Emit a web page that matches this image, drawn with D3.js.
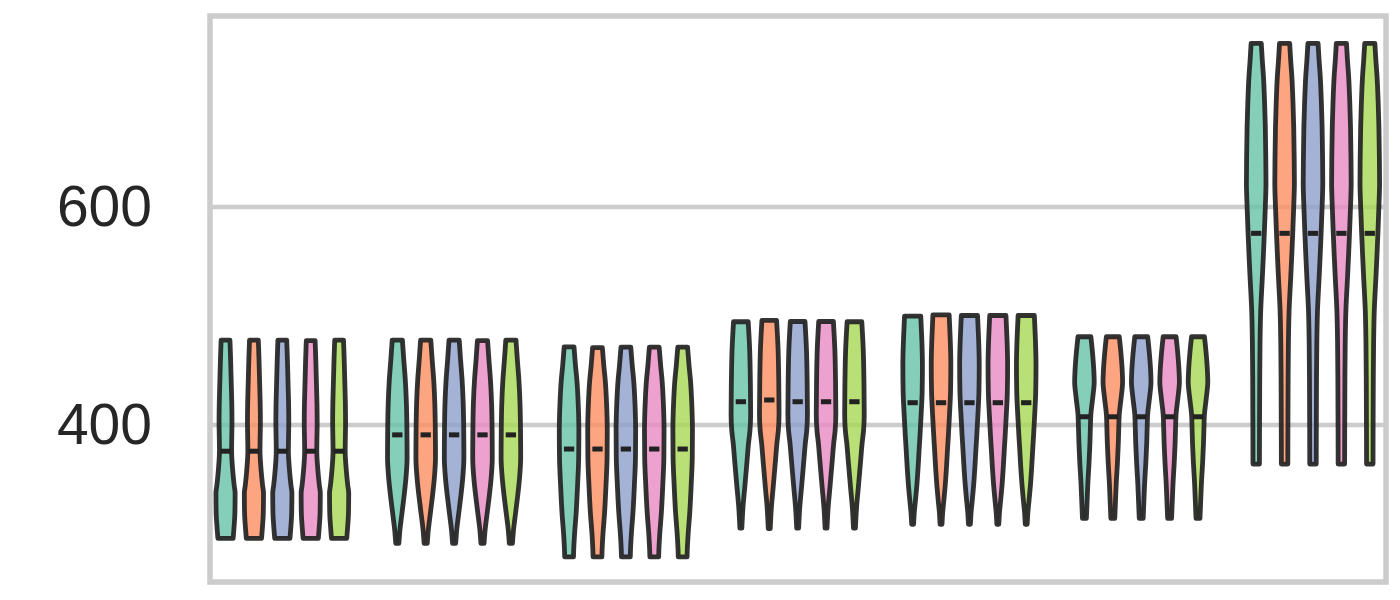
<!DOCTYPE html>
<html>
<head>
<meta charset="utf-8">
<script src="https://cdn.jsdelivr.net/npm/d3@7"></script>
<style>
html,body{margin:0;padding:0;background:#fff;}
svg{display:block;}
</style>
</head>
<body>
<svg id="chart" width="1400" height="600"></svg>
<script>
// ---------- data ----------
const groups = ["G1","G2","G3","G4","G5","G6","G7"];
const hues = ["H1","H2","H3","H4","H5"];
const hueColors = ["#66c2a5","#fc8d62","#8da0cb","#e78ac3","#a6d854"];
const yTicks = [400, 600];

// per group, per hue: minimum, maximum, median
const minVals = [
  [296, 296, 296, 296, 296],
  [291.5, 291.5, 291.5, 291.5, 291.5],
  [279, 279, 279, 279, 279],
  [305.5, 305, 305.5, 305.5, 305.5],
  [309, 309, 309, 309, 309],
  [314.4, 314.4, 314.4, 314.4, 314.4],
  [364.2, 364.2, 364.2, 364.2, 364.2]
];
const maxVals = [
  [478, 478, 478, 477.5, 478],
  [478, 478, 478, 477.5, 478],
  [471.8, 471, 471.5, 471.5, 471.5],
  [494.8, 496, 495, 495, 494.8],
  [500, 501, 500.5, 500.5, 500.5],
  [481, 481, 481, 481, 481],
  [750.2, 750.2, 750.2, 750.2, 750.2]
];
const medianVals = [
  [376, 376, 376, 376, 376],
  [391, 391, 391, 391, 391],
  [378, 378, 378, 378, 378],
  [421.4, 423, 421.4, 421.4, 421.4],
  [420.5, 420.5, 420.5, 420.5, 420.5],
  [407.6, 407.6, 407.6, 407.6, 407.6],
  [575.9, 575.9, 575.9, 575.9, 575.9]
];
// density outline per group: values (top to bottom) and relative widths
const profileValues = [
  [478, 460, 440, 420, 402, 385, 376, 360, 345, 337.6, 320, 305, 296],
  [478, 460, 441, 420, 398, 370, 350, 334, 318, 304, 291.5],
  [471.8, 455, 441, 420, 395, 370, 345, 319, 300, 285, 279],
  [494.8, 469, 440, 410, 395, 383, 368, 343, 325, 305.5],
  [500, 480, 455, 430, 410, 390, 377, 360, 347, 330, 320, 309],
  [481, 466, 450, 440, 425, 410, 395, 383, 365, 350, 325, 314.4],
  [750.2, 735, 720, 695, 674, 645, 622, 600, 576, 555, 536, 505, 475, 444, 400, 364.2]
];
const profileWidths = [
  [0.45, 0.52, 0.58, 0.64, 0.66, 0.63, 0.62, 0.72, 0.88, 0.98, 0.96, 0.86, 0.78],
  [0.52, 0.66, 0.82, 0.93, 0.98, 1.0, 0.87, 0.68, 0.46, 0.27, 0.16],
  [0.5, 0.65, 0.8, 0.93, 1.0, 0.98, 0.87, 0.72, 0.56, 0.47, 0.45],
  [0.75, 0.9, 0.97, 1.0, 0.93, 0.78, 0.64, 0.4, 0.22, 0.1],
  [0.83, 0.93, 1.0, 0.97, 0.87, 0.75, 0.66, 0.55, 0.45, 0.28, 0.17, 0.1],
  [0.66, 0.83, 0.96, 1.0, 0.85, 0.66, 0.6, 0.56, 0.47, 0.37, 0.25, 0.2],
  [0.52, 0.62, 0.74, 0.86, 0.93, 0.98, 1.0, 0.93, 0.83, 0.73, 0.63, 0.46, 0.39, 0.36, 0.34, 0.33]
];

// ---------- layout ----------
const svg = d3.select("#chart");
const pLeft = 210, pRight = 1386, pTop = 16, pBottom = 582;

const x = d3.scaleLinear().domain([-0.421, 6.425]).range([pLeft, pRight]);
const y = d3.scaleLinear().domain([256, 775.3]).range([pBottom, pTop]);
const hueStep = 0.1653;
const halfWidth = 0.057;   // in x units
const medianHalf = 0.03;

// gridlines
svg.append("g").selectAll("line").data(yTicks).join("line")
  .attr("x1", pLeft).attr("x2", pRight)
  .attr("y1", d => y(d)).attr("y2", d => y(d))
  .attr("stroke", "#cccccc").attr("stroke-width", 4.5);

// y axis labels via d3 axis
const yAxis = d3.axisLeft(y).tickValues(yTicks).tickSize(0).tickPadding(58);
const ax = svg.append("g").attr("transform", `translate(${pLeft},0)`).call(yAxis);
ax.select(".domain").remove();
ax.selectAll("text")
  .attr("font-family", "'Liberation Sans', Arial, sans-serif")
  .attr("font-size", 57)
  .attr("fill", "#262626");

// violins
const area = d3.area().curve(d3.curveMonotoneY);

groups.forEach((g, gi) => {
  const pv = profileValues[gi], pw = profileWidths[gi];
  const pmin = d3.min(pv), pmax = d3.max(pv);
  hues.forEach((h, hi) => {
    const cx = gi + (hi - 2) * hueStep;
    const hmin = minVals[gi][hi], hmax = maxVals[gi][hi];
    const pts = pv.map((v, k) => ({
      v: hmin + (v - pmin) / (pmax - pmin) * (hmax - hmin),
      w: pw[k]
    })).sort((a, b) => a.v - b.v);
    area
      .y(d => y(d.v))
      .x0(d => x(cx - halfWidth * d.w))
      .x1(d => x(cx + halfWidth * d.w));
    const grp = svg.append("g");
    grp.append("path")
      .attr("d", area(pts))
      .attr("fill", hueColors[hi])
      .attr("fill-opacity", 0.8)
      .attr("stroke", "#222222")
      .attr("stroke-opacity", 0.92)
      .attr("stroke-width", 4.8)
      .attr("stroke-linejoin", "round");
    grp.append("line")
      .attr("x1", x(cx - medianHalf)).attr("x2", x(cx + medianHalf))
      .attr("y1", y(medianVals[gi][hi])).attr("y2", y(medianVals[gi][hi]))
      .attr("stroke", "#222222").attr("stroke-width", 5);
  });
});

// frame
svg.append("rect")
  .attr("x", pLeft).attr("y", pTop)
  .attr("width", pRight - pLeft).attr("height", pBottom - pTop)
  .attr("fill", "none").attr("stroke", "#cccccc").attr("stroke-width", 5.5);
</script>
</body>
</html>
